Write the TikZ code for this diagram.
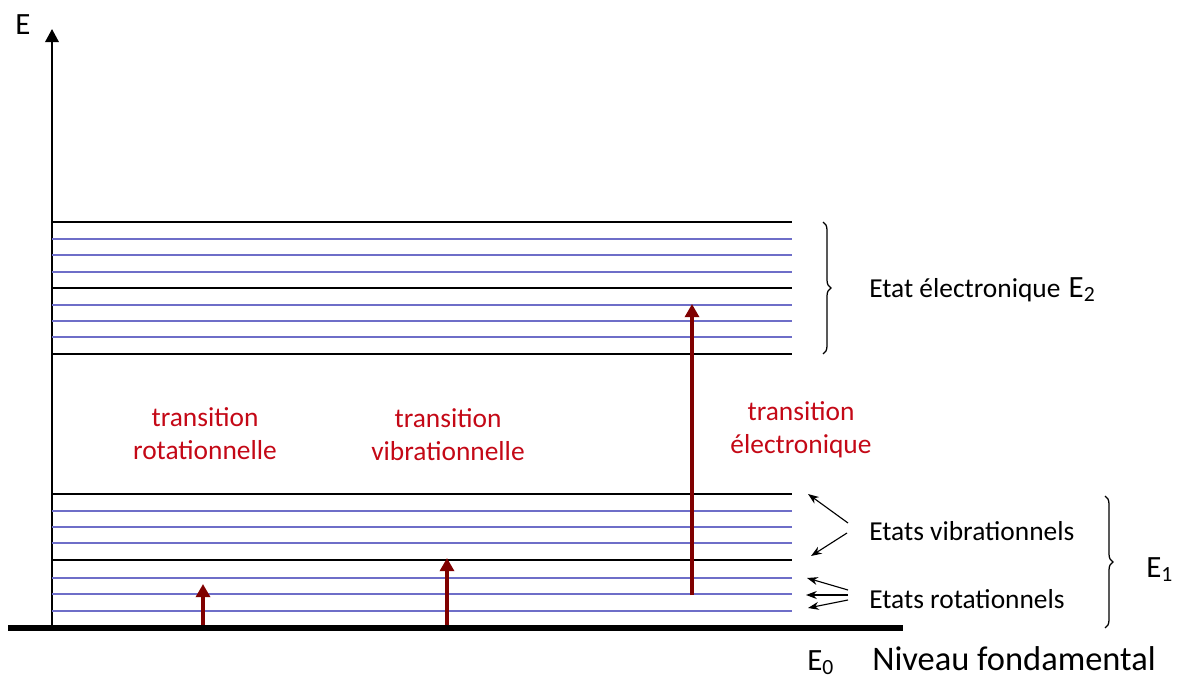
\documentclass[tikz,border=0pt]{standalone}
\usepackage{fontspec}
\setmainfont{Carlito}
\usepackage{tikz}
\usetikzlibrary{arrows.meta,positioning,decorations.pathreplacing}
\usepackage{xcolor}
\definecolor{transred}{RGB}{196,8,22}
\definecolor{darkarrow}{RGB}{128,0,0}
\definecolor{subblue}{RGB}{110,110,200}

\begin{document}
\begin{tikzpicture}[x=0.25mm,y=-0.25mm,
    level/.style={black,line width=1.3pt},
    sublevel/.style={subblue,line width=0.9pt},
    translabel/.style={transred,font=\fontsize{19.5}{23.5}\selectfont,align=center},
    statelabel/.style={anchor=base west,inner sep=0pt,font=\fontsize{19.5}{23}\selectfont},
    biglabel/.style={anchor=base west,inner sep=0pt,font=\fontsize{22}{26}\selectfont},
    transarrow/.style={darkarrow,line width=2.8pt,-{Triangle[length=3.3mm,width=3.5mm]}},
    pointer/.style={black,line width=0.8pt,-{Stealth[length=2.7mm,width=2mm]}},
    levelbrace/.style={decorate,decoration={brace,amplitude=2mm},line width=0.9pt}]
  \useasboundingbox (0,0) rectangle (1177,679);
  \def\xl{52}
  \def\xr{792}
  % Energy axis
  \coordinate (origin) at (\xl,628);
  \coordinate (axistop) at (\xl,29);
  \draw[line width=1.4pt,-{Triangle[length=3.3mm,width=3.4mm]}] (origin) -- (axistop);
  \node[font=\fontsize{22}{26}\selectfont] (elabel) at (23,25) {E};
  % Ground state
  \coordinate (gleft) at (8,628);
  \coordinate (gright) at (903,628);
  \draw[line width=4.4pt] (gleft) -- (gright);
  % Electronic / vibrational levels (black), rotational levels (blue)
  \foreach \y in {222,288,354,494,560}
    \draw[level] (\xl,\y) -- (\xr,\y);
  \foreach \y in {239,255,272,305,321,337,511,527,543,578,594,611}
    \draw[sublevel] (\xl,\y) -- (\xr,\y);
  % Transitions
  \foreach \n/\x/\ya/\yb in {rot/203/625/584,vib/447/625/558,ele/692/595/304} {
    \coordinate (\n start) at (\x,\ya);
    \coordinate (\n end) at (\x,\yb);
    \draw[transarrow] (\n start) -- (\n end);
  }
  \node[translabel] (rotlabel) at (205,434) {transition\\rotationnelle};
  \node[translabel] (viblabel) at (448,435) {transition\\vibrationnelle};
  \node[translabel] (elelabel) at (801,430) {transition\\électronique};
  % Braces
  \coordinate (btop2) at (823,222);
  \coordinate (bbot2) at (823,354);
  \draw[levelbrace] (btop2) -- (bbot2);
  \coordinate (btop1) at (1105,496);
  \coordinate (bbot1) at (1105,628);
  \draw[levelbrace] (btop1) -- (bbot1);
  % State labels
  \node[statelabel] (e2label) at (869,297)
    {Etat électronique\hspace{0.3em}{\fontsize{22}{26}\selectfont E\textsubscript{2}}};
  \node[statelabel] (viblbl) at (869,540) {Etats vibrationnels};
  \node[statelabel] (rotlbl) at (869,608) {Etats rotationnels};
  \node[biglabel] (e1label) at (1146,577) {E\textsubscript{1}};
  \node[biglabel] (e0label) at (807,670) {E\textsubscript{0}};
  \node[statelabel,font=\fontsize{24.5}{28}\selectfont] (fondlabel) at (872,670) {Niveau fondamental};
  % Pointers to the levels
  \foreach \n/\sx/\sy/\tx/\ty in {a/848/523/808/494,b/847/533/811/556,
      c/848/590/807/578,d/848/595/806/595,e/848/600/808/608} {
    \coordinate (p\n s) at (\sx,\sy);
    \coordinate (p\n t) at (\tx,\ty);
    \draw[pointer] (p\n s) -- (p\n t);
  }
\end{tikzpicture}
\end{document}
